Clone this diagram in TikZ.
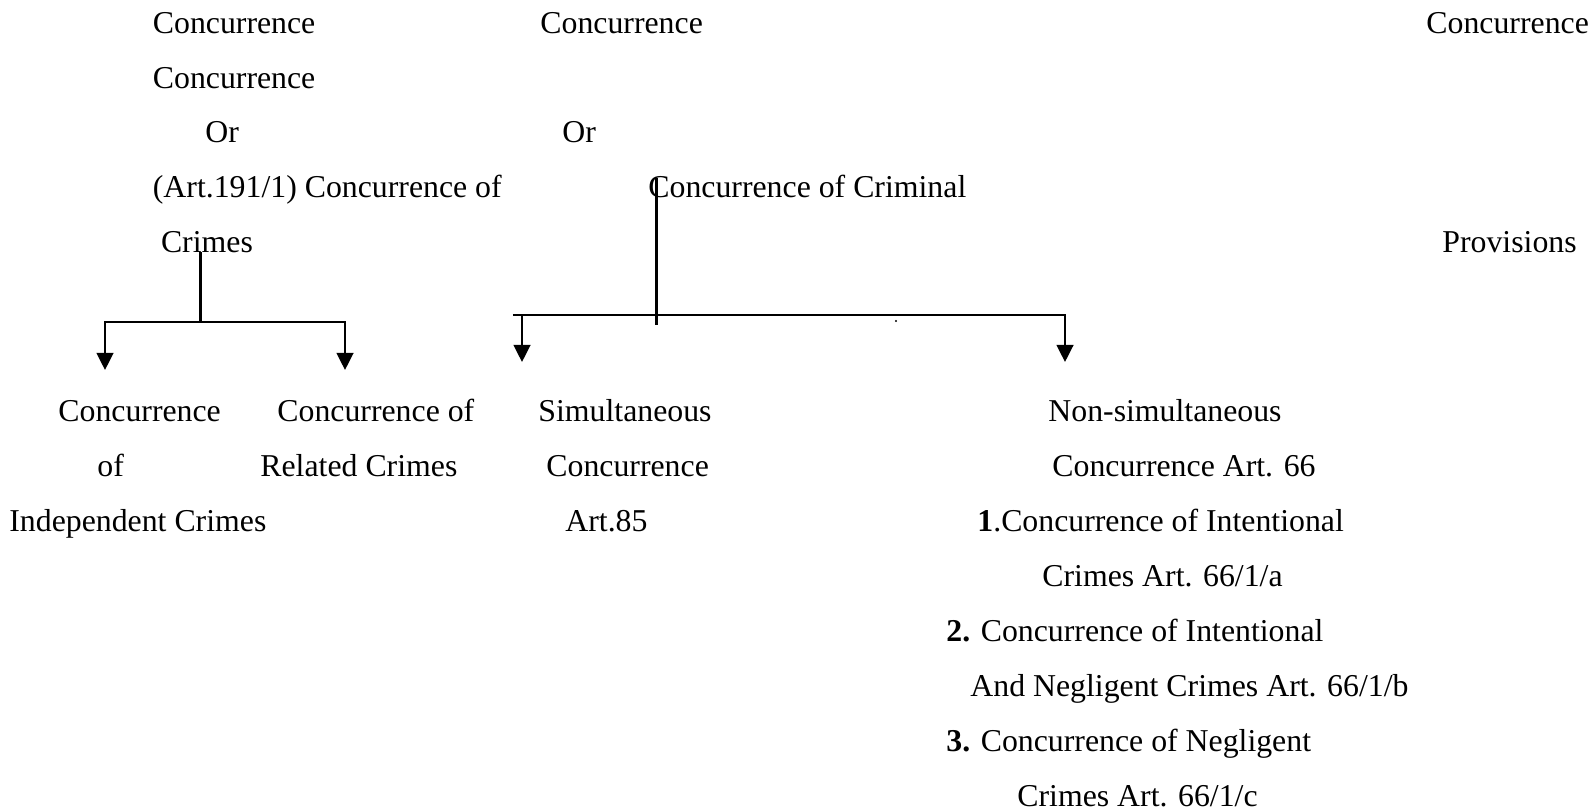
\documentclass[tikz,border=0pt]{standalone}
\usepackage{fontspec}
\setmainfont{Liberation Serif}
\usetikzlibrary{%
  arrows.meta,% Triangle tips
  positioning%
}

\begin{document}
\begin{tikzpicture}[
    x=0.5pt, y=-0.5pt,
    txt/.style={anchor=base west, inner sep=0pt, font=\fontsize{15.9}{20}\selectfont},
    wire/.style={line width=1.2pt},
    tip/.style={wire, -{Triangle[width=8.4pt,length=8.6pt]}}
  ]
  \useasboundingbox (0,0) rectangle (1594,812);

  % draw top texts
  \foreach \x/\y/\n in {152.5/33.5/c1, 540/33.5/c2, 1426/33.5/c3, 152.5/88.5/c4}{
    \node[txt] at (\x,\y) (\n) {Concurrence};}
  \node[txt] at (205,143) (or1) {Or};
  \node[txt] at (562,143) (or2) {Or};
  \node[txt] at (152.5,198) (art) {(Art.191/1) Concurrence of};
  \node[txt] at (648,198) (crim) {Concurrence of Criminal};
  \node[txt] at (160.6,253) (crimes) {Crimes};
  \node[txt] at (1442,253) (prov) {Provisions};

  % draw bottom texts
  \node[txt] at (58,421) (ind1) {Concurrence};
  \node[txt] at (97,476) (ind2) {of};
  \node[txt] at (9,531) (ind3) {Independent Crimes};
  \node[txt] at (277,421) (rel1) {Concurrence of};
  \node[txt] at (260,476) (rel2) {Related Crimes};
  \node[txt] at (538,421) (sim1) {Simultaneous};
  \node[txt] at (546,476) (sim2) {Concurrence};
  \node[txt] at (565,531) (sim3) {Art.85};
  \node[txt] at (1048,421) (non1) {Non-simultaneous};
  \node[txt] at (1052,476) (non2) {Concurrence Art. 66};
  \node[txt] at (977,531) (non3) {\textbf{1}.Concurrence of Intentional};
  \node[txt] at (1042,586) (non4) {Crimes Art. 66/1/a};
  \node[txt] at (946,641) (non5) {\textbf{2.} Concurrence of Intentional};
  \node[txt] at (970,696) (non6) {And Negligent Crimes Art. 66/1/b};
  \node[txt] at (946,751) (non7) {\textbf{3.} Concurrence of Negligent};
  \node[txt] at (1017,806) (non8) {Crimes Art. 66/1/c};

  % connector points
  \coordinate (ltop) at (200.5,252);
  \coordinate (lbar) at (200.5,322);
  \coordinate (la) at (105,370);
  \coordinate (lb) at (345,370);
  \coordinate (rtop) at (656.6,178);
  \coordinate (rbot) at (656.6,325);
  \coordinate (rw) at (512.8,315);
  \coordinate (re) at (1065,315);
  \coordinate (ra0) at (522,315);
  \coordinate (ra) at (522,362);
  \coordinate (rb) at (1065,362);

  % draw connections
  \draw[wire] (ltop) -- (lbar);
  \foreach \t in {la,lb}{
    \draw[tip] (lbar) -| (\t);}
  \draw[wire] (rtop) -- (rbot);
  \draw[tip] (rw) -- (re) -- (rb);
  \draw[tip] (ra0) -- (ra);
  \fill (896,321) circle (1.2);
\end{tikzpicture}
\end{document}
